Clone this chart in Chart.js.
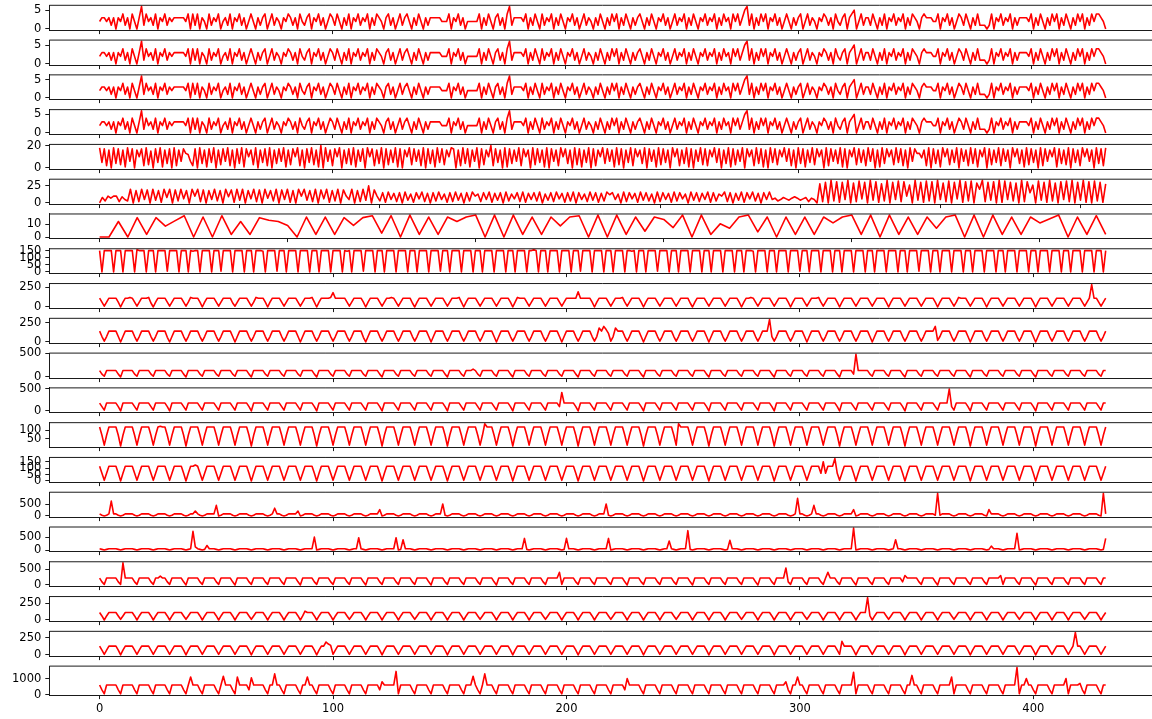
<!DOCTYPE html>
<html>
<head>
<meta charset="utf-8">
<script src="https://cdn.jsdelivr.net/npm/chart.js@4.4.0/dist/chart.umd.min.js"></script>
<style>
  html, body { margin: 0; padding: 0; background: #fff; overflow: hidden; }
  body { width: 1152px; height: 719px; position: relative; }
  canvas { position: absolute; left: 0; }
</style>
</head>
<body>
<script>
// each series is written one character per point (base-36 level), times its unit
function levels(str, unit) {
  return str.replace(/\s+/g, '').split('').map(c => parseInt(c, 36) * unit);
}

const xTicks = [0, 100, 200, 300, 400];
const xTicks6 = [0, 100, 200, 300, 400, 500, 600, 700];
const xTicks7 = [0, 100, 200, 300, 400, 500];

const row01 = levels(`
2332313032 4130420361 4231403241 3233333240 4140320413 2402314032 4130242031 3402413203
2431304213 4032413024 3142031403 2413240314 3203413024 1342031420 3133333222 4032413022
2224031420 3413046133 3324031420 4132403142 0324130241 3203142031 4240314203 1342031420
3241302413 2403142032 4132403142 3042413561 4031424032 4130242031 3402413203 2431304213
4034502413 3142031403 2413240314 3203433322 4032413024 3142031411 1014032413 2403133332
4031420314 2403142031 4240314244 320`, 1);

const row05 = levels(`
i5h2g0i4h3 g1i6h0gah2 i3f0h5i1g4 h0i2g6hdc6 2h0i4g1h5i 0g3h6i2g0h 4i1hag3i0g 5h2i0g4h6i
1g3hai2g0h 5i3g1k0i6g 2hai0g4h3i 1g6h0iah2g 4i0h3g5i1h 0gai3h6g2i 0h4g1i5h3g aih0g2i4h1
g6i0h3gak2 h5g0i1h4g6 i2hag0i3h5 g1i0h6g2ia h4g0i3h1g5 i0h2gai4h6 g1i3h0g5i2 hag4i0h6g1
i3h5g0iah2 g4i1h0g6i3 h2gai5h0g4 i1h3g6i0ha g2i4h1g0i5 h3gai6h2g0 i4h1g5i3ha g0i2h6g4i1
h0gai3h5g2 i6h0g1i4ha g3i5h2g0i6 hdd9g2i0h4 g1iah3g5i0 h6g2i4h1ga i0h3g5i2h6 g0iah4g1i3
h5g0i2h6ga i1h4g3i0h5 g2iah6g0i4 h2i`, 1);

const row06Step = 2;
const row06 = levels(`
083a7aa295 3k0i2k5j0k 4i1k8k0j3k 6i0kak2j0i 5k3i0k9j1k 4k0i6k2j0k 7i3k0j5k1i 0kak4i2k0j
6k1i3k0ja5 k0i2k4p0ja 3f1g5e2f0g 4d1f6g2e0f 3g5d1f2g4e 0f3gad2f5g 1e4f0g3d6f 2g1e5f3g0d
4f2g6e1f3g 0f5d2g4f1e 3gcf5d0g2f 6e1g4f3d0g 2f5e1g3f6d 0g4f2e5g1f 3dag2f0e4g 1f6g3e0f5g
5735864797 4682750s2u 0x3v1u5x0t 2w6u0x4v1s 3x0u5w2vaq 0x4u1w3v0x 5t2w0u6x1v 3w0tkx2u4v
0x1w5u3t0x 2vfq0w4u1x 3t0v5w2x0u 4x1v0w3u1s`, 1);

const row07Step = 5;
const row07 = [0, 0, 12, 0, 15, 2, 15, 8.4, 12.5, 16.5, 0, 15.5, 0, 16.5, 2, 12, 2, 15, 13, 12,
  9, 0, 15.5, 2, 15.5, 2, 15, 9, 15, 16.5, 3, 16.5, 0, 17, 2, 15.5, 2, 15.5, 12, 15.5,
  17, 0, 17, 0, 17, 2, 15.5, 2, 15.5, 8.6, 15.5, 16.5, 0, 17, 0, 17, 2, 15.5, 4.5, 15.5,
  13.6, 7.3, 17, 0, 17, 2, 10.2, 6.8, 15.5, 17, 4, 15.5, 0, 15.5, 2, 15.5, 2, 15.5, 10.9, 15.5,
  17, 2, 17, 0, 17, 2, 15.5, 2, 15.5, 6.8, 15.5, 17, 0, 17, 0, 17, 2, 15.5, 2, 15.5,
  10.9, 14, 17, 0, 15.5, 2, 16.5, 2];

const row08 = levels(`
u0uuuu0uuu0uuu u0vuuu0uuu0uuu u1uuuu0uuu0utu u0uuuu0uuu1uuu u0uuuu0uuu0uuu
t0uuuu1uuu0uuu u0uuuu0uuu0uuu u0uuuu0utu0uuu u1uuuu0uuu0uuu u0uuuu0uuu0uuu
u0uuuu1uuu0uuu u0uuuu0uuu0uuu u0uuuu0uuu0uuu u0uuvu0uuu0uuu u0uuuu0uuu1uuu
u0uuuu0uuu0uuu u0uutu0uuu0uuu u1uuuu0uuu0uuu u0uuuu0uuu0uuu u0uuuu0uuu0uuu
t0uuuu0uuu0uuu u0uuuu1uuu0uuu u0uuuu0uuu0uuu u0uuuu0uuu0uuu u0uuuu0uuu0uuu
u1uuuu0uuu0uuu u0uuuu0uuu0uuu u0uuuu0uuu0uuu u0uuuu0uuu0uuu u0uuuu0uuu0uuu
u0uuuu0uuu0u`, 5);

const row09 = levels(`
b616bbb b606bbc b616bbb c506bbb b616bbb b616cbb b606bbb
b616bbb b516bbb b616cbb b606bbb b616bbb b616bbb c606bbb
bcibbbb b616bbb b606bbb b616bbc b616bbb b506bbb b616bbb
b616bbb c606bbb b616bbb b616bbb b606cbb b616bbb b616bbb
b616bbb bbjbbbb b606bbb b616bbb c616bbb b606bbb b616bbb
b616bbb b506bbb b616bbb b616bbb b606bbc b616bbb b616bbb
b606bbb b616bbb c616bbb b606bbb b616bbb b616bbb b606bbb
b616bbb b616bbb b606bbb b616cbb b616bbb b606bbb b616bbb
b616bbb b606bbb b616bbb b616bbb b616bsb b616b`, 10);

const row10 = levels(`
e717eee e707eee e717eee e717eee e607eee e717eee e717eee
e717eee e707eee e717eee e717eee e717eee e707eee e717eee
e717eee e717eee e607eee e717eee e717eee e717eee e707eee
e717eee e717eee e717eee e707eee e717eee e717eee e717eee
e707eee e717eee e717iek gb17iee e717eee e707eee e717eee
e717eee e717eee e707eee e717eee e717eee e717eee t717eee
e717eee e707eee e717eee e717eee e717eee e707eee e717eee
e717eee e717eee ek27eee e717eee e707eee e717eee e717eee
e717eee e707eee e717eee e717eee e717eee e717e`, 10);

const row11 = levels(`
9419999 9409999 9419999 9419999 9419999 9409999 9419999
9419999 9419999 9409999 9419999 9419999 9419999 9409999
9419999 9419999 9419999 9409999 9419999 9419999 9419999
9409999 941999b 9419999 9419999 9409999 9419999 9419999
9419999 9409999 9419999 9419999 9419999 9409999 9419999
9419999 9419999 9409999 9419999 9419999 9419999 9409999
9419999 9419999 9419999 9409999 94w9999 9419999 9419999
9409999 9419999 9419999 9419999 9409999 9419999 9419999
9419999 9409999 9419999 9419999 9419999 94199`, 15);

const row12 = levels(`
9519999 9509999 9519999 9519999 9509999 9519999 9519999
9519999 9519999 9509999 9519999 9519999 9519999 9509999
9519999 9519999 9519999 9509999 9519999 9519999 9519999
9509999 9519999 9519999 9519999 9509999 9519999 9519999
95l9999 9509999 9519999 9519999 9519999 9509999 9519999
9519999 9519999 9509999 9519999 9519999 9519999 9509999
9519999 9519999 9519999 9509999 9519999 9519999 9519999
9509999 9519999 9519999 p519999 9509999 9519999 9519999
9519999 9509999 9519999 9519999 9519999 95199`, 20);

const row13 = levels(`
oe2eooo oe1eooo oe2eooo oe2eopo oe2eooo oe1eooo oe2eooo
oe2eooo oe2eooo oe1eooo oe2eooo oe2eooo oe2eooo oe1eooo
oe2eooo oe2eooo oe2eooo oe1eooo oe2eooo oe2eooo oe2eooo
oe1eooo oe2eooo oe2esoo oe2eooo oe1eooo oe2eooo oe2eooo
oe2eooo oe1eooo oe2eooo oe2eooo oe2eooo oe1eooo oe2eooo
oe2sooo oe2eooo oe1eooo oe2eooo oe2eooo oe2eooo oe1eooo
oe2eooo oe2eooo oe2eooo oe1eooo oe2eooo oe2eooo oe2eooo
oe1eooo oe2eooo oe2eooo oe2eooo oe1eooo oe2eooo oe2eooo
oe2eooo oe1eooo oe2eooo oe2eooo oe2eooo oe2eo`, 5);

const row14 = levels(`
nc1cnnn nc0cnnn nc1cnnn nc1cnnn nc1cnnn nc0cnnp nc1cnnn
nc1cnnn nc1cnnn nc0cnnn nc1cnnn nc1cnnn nc1cnnn nc0cnnn
nc1cnnn nc1cnnn nc1cnnn nc0cnnn nc1cnnn nc1cnnn nc1cnnn
nc0cnnn nc1cnnn nc1cnnn nc1cnnn nc0cnnn nc1cnnn nc1cnnn
nc1cnnn nc0cnnn nc1cnnn nc1cnnn nc1cnnn nc0cnnn nc1cnnn
nc1cnnn nc1cnnn nc0cnnn nc1cnnn nc1cnnn nc1cnnn nc0cnnn
nc1cnnn nc1cnnn ncucnnn zc1cnnn nc0cnnn nc1cnnn nc1cnnn
nc0cnnn nc1cnnn nc1cnnn nc1cnnn nc0cnnn nc1cnnn nc1cnnn
nc1cnnn nc0cnnn nc1cnnn nc1cnnn nc1cnnn nc1cn`, 5);

const row15 = levels(`
31013l3 3101333 3101333 3101333 3101333 3101337 3101333
3f01333 3101333 3101333 31013b3 3101333 3701333 3101333
3101333 3101333 3101333 3901333 3101333 3101333 3101333
h101333 3101333 3101333 3101333 3101333 3101333 3101333
3101333 3101333 3101333 h101333 3101333 3101333 3101333
3101333 3101333 3101333 3101333 3101333 3101333 3101333
31013p3 31013f3 3101333 3101333 3901333 3101333 3101333
3101333 3101333 31w1333 3101333 3101333 3109333 3101333
3101333 3101333 3101333 3101333 3101333 310w3`, 30);

const row16 = levels(`
2101222 2101222 2101222 2101222 2101222 21012t5 2101722
2101222 2101222 2101222 2101222 2101222 2101222 2k01222
2101222 210122j 2101222 2101222 2j01g22 2101222 2101222
2101222 2101222 2101222 2101222 2101222 i101222 2101222
2101i22 2101222 2101222 2i01222 2101222 2101222 210122e
2101222 u101222 2101222 2101f22 2101222 2101222 2101222
2101222 2101222 2101222 2101222 2y01222 2101222 21012g2
2101222 2101222 2101222 2101222 2101222 2101622 2101222
2q01222 2101222 2101222 2101222 2101222 2101i`, 25);

const row17 = levels(`
b51bbbb b51zbbb b51bbbb b51bbeb b51bbbb b50bbbb b51bbbb
b51bbbb b50bbbb b51bbbb b51bbbb b51bbbb b50bbbb b51bbbb
b51bbbb b51bbbb b50bbbb b51bbbb b51bbbb b51bbbb b50bbbb
b51bbbb b51bbbb b51bbbb b50bbbb b51bbbb b51bbbb b51bbbb
bk1bbbb b51bbbb b51bbbb b51bbbb b50bbbb b51bbbb b51bbbb
b51bbbb b50bbbb b51bbbb b51bbbb b51bbbb b50bbbb b51bbbb
r51bbbb b51bbbb b51bkbb b51bbbb b50bbbb b51bbbb b51bbbb
b5fbbbb b51bbbb b50bbbb b51bbbb b51bbbb b51bbbb bf1bbbb
b51bbbb b50bbbb b51bbbb b51bbbb b51bbbb b51bb`, 20);

const row18 = levels(`
b606bbb b616bbb b606bbb b606bbb b606bbb b616bbb b606bbb
b606bbb b606bbb b616bbb b606bbb b606bbb b606dbb b606bbb
b606bbb b616bbb b606bbb b606bbb b606bbb b616bbb b606bbb
b606bbb b606bbb b616bbb b606bbb b606bbb b606bbb b616bbb
b606bbb b606bbb b606bbb b616bbb b606bbb b606bbb b606bbb
b616bbb b606bbb b606bbb b606bbb b616bbb b606bbb b606bbb
b606bbb b616bbb b606bbb b606bbb b606bbb x606bbb b616bbb
b606bbb b606bbb b606bbb b616bbb b606bbb b606bbb b606bbb
b616bbb b606bbb b606bbb b606bbb b616bbb b606b`, 10);

const row19 = levels(`
d717ddd d707ddd d717ddd d717ddd d717ddd d707ddd d717ddd
d717ddd d717ddd d707ddd d717ddd d717ddd d717ddd d707ddj
ge17ddd d717ddd d717ddd d707ddd d717ddd d717ddd d717ddd
d707ddd d717ddd d717ddd d717ddd d707ddd d717ddd d717ddd
d717ddd d707ddd d717ddd d717ddd d717ddd d707ddd d717ddd
d717ddd d717ddd d707ddd d717ddd d717ddd d717ddd d707ddd
d717ddd d717ddd d717ddd d71kddd d707ddd d717ddd d717ddd
d707ddd d717ddd d717ddd d717ddd d707ddd d717ddd d717ddd
d717ddd d707ddd d717ddd d717dxd d717ddd d717d`, 10);

const row20 = levels(`
c61cccc c61cccc c61cccc c61cccc c61cccc c61cmcc c61cccc
c61cncc c61mccc c6lcccc c61ccqc c61cccc c61ccmc c61cccc
c61cccc c61cccc c61cccc c6gcccc ct1cccc c61cccc c61cccc
c61cccc c61cccn c61cqcc c61cccc c61cccc c61cccc c61cccc
c61cccc c61cccc c61cccc c61cccc c6kcccc c61cccc c61cccc
c61cccc c61cccc c61cccc c61cccc c61cccc c61cccc c61cccc
g61ccmc c61cccc c61cccc c61cccc cs1cccc c61cccc c61cccc
c61ccoc c61cccc c61cccc cm1cccc c61cccc c61cccc c61cccc
cy1cckc c61cccc c61cccc ck1cccc e61cccc c61cc`, 50);

// rows 2-4 repeat row 1 in the source figure
const panels = [
  { values: row01, step: 1, yTicks: [0, 5], xTicks },
  { values: row01, step: 1, yTicks: [0, 5], xTicks },
  { values: row01, step: 1, yTicks: [0, 5], xTicks },
  { values: row01, step: 1, yTicks: [0, 5], xTicks },
  { values: row05, step: 1, yTicks: [0, 20], xTicks },
  { values: row06, step: row06Step, yTicks: [0, 25], xTicks: xTicks6 },
  { values: row07, step: row07Step, yTicks: [0, 10], xTicks: xTicks7 },
  { values: row08, step: 1, yTicks: [0, 50, 100, 150], xTicks },
  { values: row09, step: 1, yTicks: [0, 250], xTicks },
  { values: row10, step: 1, yTicks: [0, 250], xTicks },
  { values: row11, step: 1, yTicks: [0, 500], xTicks },
  { values: row12, step: 1, yTicks: [0, 500], xTicks },
  { values: row13, step: 1, yTicks: [50, 100], xTicks },
  { values: row14, step: 1, yTicks: [0, 50, 100, 150], xTicks },
  { values: row15, step: 1, yTicks: [0, 500], xTicks },
  { values: row16, step: 1, yTicks: [0, 500], xTicks },
  { values: row17, step: 1, yTicks: [0, 500], xTicks },
  { values: row18, step: 1, yTicks: [0, 250], xTicks },
  { values: row19, step: 1, yTicks: [0, 250], xTicks },
  { values: row20, step: 1, yTicks: [0, 1000], xTicks }
];

const FIG_TOP = 5.3, PITCH = 34.78, AX_H = 29;
const AX_LEFT = 49.3, AX_RIGHT = 1156, CANVAS_W = 1160;

Chart.defaults.font.family = 'DejaVu Sans';
Chart.defaults.font.size = 11.5;
Chart.defaults.color = '#000';

// top and right spines (Chart.js only draws the axis borders)
const frame = {
  id: 'frame',
  afterDraw(chart) {
    const { ctx, chartArea: a } = chart;
    ctx.save();
    ctx.strokeStyle = '#000';
    ctx.lineWidth = 0.9;
    ctx.beginPath();
    ctx.moveTo(a.left, a.top);
    ctx.lineTo(a.right, a.top);
    ctx.lineTo(a.right, a.bottom);
    ctx.stroke();
    ctx.restore();
  }
};

panels.forEach((p, k) => {
  const last = k === panels.length - 1;
  const top = FIG_TOP + k * PITCH;
  const canvasTop = Math.floor(top) - 12;
  const padTop = top - canvasTop;
  const xAxisH = last ? 26 : 6;
  const height = Math.ceil(padTop + AX_H + xAxisH);

  const canvas = document.createElement('canvas');
  canvas.width = CANVAS_W;
  canvas.height = height;
  canvas.style.top = canvasTop + 'px';
  document.body.appendChild(canvas);

  const points = p.values.map((v, i) => ({ x: i * p.step, y: v }));
  const xEnd = (p.values.length - 1) * p.step;
  const lo = Math.min(...p.values), hi = Math.max(...p.values);
  const yPad = (hi - lo) * 0.05;

  new Chart(canvas, {
    type: 'line',
    data: {
      datasets: [{
        data: points,
        borderColor: '#ff0000',
        borderWidth: 1.6,
        pointRadius: 0,
        tension: 0,
        borderJoinStyle: 'round'
      }]
    },
    options: {
      responsive: false,
      animation: false,
      devicePixelRatio: 1,
      layout: { padding: { top: padTop, left: 0, right: CANVAS_W - AX_RIGHT, bottom: height - (padTop + AX_H + xAxisH) } },
      plugins: { legend: { display: false }, tooltip: { enabled: false } },
      scales: {
        x: {
          type: 'linear',
          min: -0.05 * xEnd,
          max: 1.05 * xEnd,
          afterBuildTicks: s => { s.ticks = p.xTicks.map(v => ({ value: v })); },
          afterFit: s => { s.height = xAxisH; },
          ticks: { display: last, autoSkip: false, maxRotation: 0, padding: 3 },
          grid: { display: true, drawOnChartArea: false, drawTicks: true, tickLength: 4, color: '#000', lineWidth: 0.9 },
          border: { display: true, color: '#000', width: 0.9 }
        },
        y: {
          min: lo - yPad,
          max: hi + yPad,
          afterBuildTicks: s => { s.ticks = p.yTicks.map(v => ({ value: v })); },
          afterFit: s => { s.width = AX_LEFT; },
          ticks: { autoSkip: false, padding: 4, callback: v => String(v) },
          grid: { display: true, drawOnChartArea: false, drawTicks: true, tickLength: 4, color: '#000', lineWidth: 0.9 },
          border: { display: true, color: '#000', width: 0.9 }
        }
      }
    },
    plugins: [frame]
  });
});
</script>
</body>
</html>
